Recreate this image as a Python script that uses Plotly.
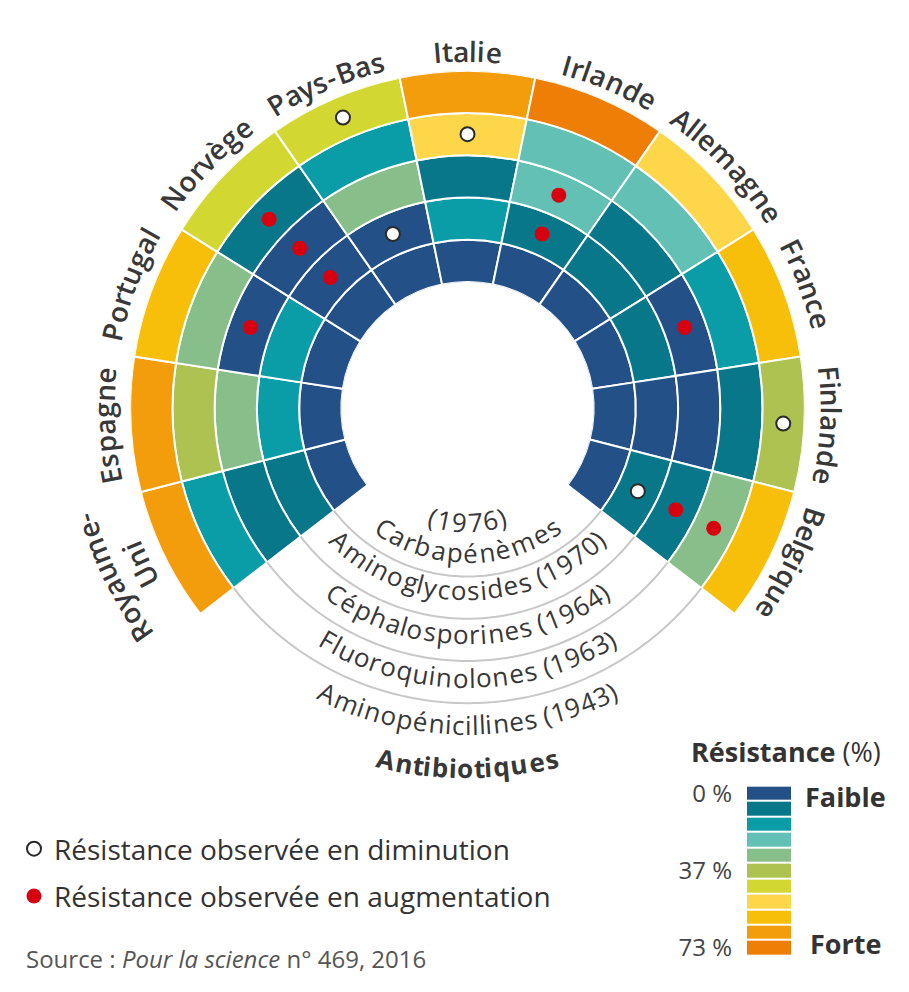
import numpy as np
import plotly.graph_objects as go

# ---------------- data ----------------
countries = ["Royaume-Uni", "Espagne", "Portugal", "Norvège", "Pays-Bas", "Italie",
             "Irlande", "Allemagne", "France", "Finlande", "Belgique"]
country_lines = {"Royaume-Uni": ["Royaume-", "Uni"]}

antibiotics = ["Carbapénèmes (1976)", "Aminoglycosides (1970)", "Céphalosporines (1964)",
               "Fluoroquinolones (1963)", "Aminopénicillines (1943)"]

# resistance class: 0 = faible (0 %) ... 10 = forte (73 %), in country order
carbapenemes      = [0, 0, 0, 0, 0, 0, 0, 0, 0, 0, 0]
aminoglycosides   = [1, 2, 2, 0, 0, 2, 1, 1, 1, 0, 1]
cephalosporines   = [1, 4, 0, 0, 4, 1, 3, 1, 0, 0, 1]
fluoroquinolones  = [2, 5, 4, 1, 2, 7, 3, 3, 2, 1, 4]
aminopenicillines = [9, 9, 8, 6, 6, 9, 10, 7, 8, 5, 8]

# observed trend: +1 = en augmentation, -1 = en diminution, 0 = none
trend_carbapenemes      = [0, 0, 0, 0, 0, 0, 0, 0, 0, 0, 0]
trend_aminoglycosides   = [0, 0, 0, 1, -1, 0, 1, 0, 0, 0, -1]
trend_cephalosporines   = [0, 0, 1, 1, 0, 0, 1, 0, 1, 0, 1]
trend_fluoroquinolones  = [0, 0, 0, 1, 0, -1, 0, 0, 0, 0, 1]
trend_aminopenicillines = [0, 0, 0, 0, -1, 0, 0, 0, 0, -1, 0]

palette = ["#235187", "#08778A", "#0A9DA8", "#62C0B5", "#88BE8A", "#AEC252",
           "#D2D831", "#FDD64A", "#F8BF0A", "#F49D0C", "#EE7E05"]
scale_tickvals = [0, 5, 10]
scale_ticktext = ["0 %", "37 %", "73 %"]

rings = [carbapenemes, aminoglycosides, cephalosporines, fluoroquinolones, aminopenicillines]
trends = [trend_carbapenemes, trend_aminoglycosides, trend_cephalosporines,
          trend_fluoroquinolones, trend_aminopenicillines]

# ---------------- layout constants ----------------
W, H = 909, 992
CX, CY, R = 467.5, 405.5, 343.5
HOLE = 0.374
SEG = 23.2
FONT = "Open Sans"
TXT = "#383838"
n = len(countries)
thetas = [(i - (n - 1) / 2) * SEG for i in range(n)]

# char widths (em) ~ Open Sans regular
WID = {' ': .26, 'a': .556, 'b': .613, 'c': .476, 'd': .613, 'e': .561, 'é': .561, 'è': .561,
       'f': .339, 'g': .548, 'h': .614, 'i': .253, 'j': .253, 'k': .525, 'l': .253, 'm': .93,
       'n': .614, 'o': .604, 'p': .613, 'q': .613, 'r': .408, 's': .477, 't': .353, 'u': .614,
       'v': .501, 'w': .778, 'x': .524, 'y': .502, 'z': .462, 'A': .633, 'B': .648, 'C': .631,
       'E': .556, 'F': .516, 'I': .293, 'N': .756, 'P': .615, 'R': .631, 'U': .742,
       '(': .267, ')': .267, '-': .322, '0': .572, '1': .572, '2': .572, '3': .572, '4': .572,
       '5': .572, '6': .572, '7': .572, '8': .572, '9': .572}


def to_paper(a_deg, r_px):
    a = np.radians(a_deg)
    return (CX + r_px * np.sin(a)) / W, 1 - (CY - r_px * np.cos(a)) / H


def arc_text(s, a0, r, fs, weight=400, outward=True, k=1.0, color=TXT):
    bold = 1.07 if weight >= 700 else (1.04 if weight >= 600 else 1.0)
    widths = [WID.get(ch, .56) * fs * k * bold for ch in s]
    total = sum(widths)
    ext = np.degrees(total / r)
    out = []
    cum = 0.0
    for ch, w in zip(s, widths):
        off = np.degrees((cum + w / 2) / r)
        cum += w
        if ch == ' ':
            continue
        if outward:
            a = a0 - ext / 2 + off
            ang = a
        else:
            a = a0 + ext / 2 - off
            ang = a - 180
        ang = ((ang + 180) % 360) - 180
        x, y = to_paper(a, r)
        out.append(dict(x=x, y=y, xref="paper", yref="paper", text=ch, showarrow=False,
                        textangle=ang, xanchor="center", yanchor="middle",
                        font=dict(family=FONT, size=fs, color=color, weight=weight)))
    return out


fig = go.Figure()

# ---------------- rings ----------------
for k, vals in enumerate(rings):
    fig.add_trace(go.Barpolar(
        r=[1] * n, base=[k] * n, theta=thetas, width=[SEG] * n,
        marker=dict(color=[palette[v] for v in vals], line=dict(color="white", width=2)),
        showlegend=False, hoverinfo="skip"))

# grey arcs in the gap
gap_theta = np.linspace(SEG * n / 2, 360 - SEG * n / 2, 120)
for k in range(1, 5):
    fig.add_trace(go.Scatterpolar(r=[k] * len(gap_theta), theta=gap_theta, mode="lines",
                                  line=dict(color="#C8C8C8", width=2),
                                  showlegend=False, hoverinfo="skip"))

# trend markers
dec_r, dec_t, inc_r, inc_t = [], [], [], []
for k, tr in enumerate(trends):
    for i, v in enumerate(tr):
        if v < 0:
            dec_r.append(k + 0.5); dec_t.append(thetas[i])
        elif v > 0:
            inc_r.append(k + 0.5); inc_t.append(thetas[i])

fig.add_trace(go.Scatterpolar(r=dec_r, theta=dec_t, mode="markers",
                              name="Résistance observée en diminution",
                              legendgroup="a",
                              marker=dict(color="white", size=14, line=dict(color="#2a2a2a", width=2))))
fig.add_trace(go.Scatterpolar(r=inc_r, theta=inc_t, mode="markers",
                              name="Résistance observée en augmentation",
                              legendgroup="b",
                              marker=dict(color="#D7000F", size=15, line=dict(width=0))))

# ---------------- colour scale legend (heatmap) ----------------
cs = []
for i, c in enumerate(palette):
    cs.append([i / len(palette), c])
    cs.append([(i + 1) / len(palette), c])
fig.add_trace(go.Heatmap(z=[[i] for i in range(len(palette))], y=list(range(len(palette))), x=[0],
                         colorscale=cs, zmin=-0.5, zmax=len(palette) - 0.5, showscale=False,
                         ygap=2, xgap=0, hoverinfo="skip", xaxis="x", yaxis="y"))

annotations = []
# country labels
for name, th in zip(countries, thetas):
    lines = country_lines.get(name, [name])
    if len(lines) == 1:
        annotations += arc_text(lines[0], th, 364, 28, weight=600, outward=True, k=1.05)
    else:
        annotations += arc_text(lines[0], th, 399, 28, weight=600, outward=True, k=1.05)
        annotations += arc_text(lines[1], th, 365, 28, weight=600, outward=True, k=1.05)

# antibiotic labels in the gap
ab_r = [None, 185.5, 230.5, 274.5, 322.5]
annotations += arc_text("(1976)", 180, 116.5, 26, outward=False, k=1.05)
annotations += arc_text("Carbapénèmes", 180, 147.5, 26, outward=False, k=1.05)
for k in range(1, 5):
    annotations += arc_text(antibiotics[k], 180, ab_r[k], 26, outward=False, k=1.045)
annotations += arc_text("Antibiotiques", 180, 366.5, 26, weight=700, outward=False, k=1.06)

annotations += [
    dict(x=786 / W, y=1 - 755 / H, xref="paper", yref="paper", showarrow=False,
         text="<b>Résistance</b> (%)", font=dict(family=FONT, size=27, color="#333"),
         xanchor="center", yanchor="middle"),
    dict(x=803 / W, y=0, xref="paper", yref="y", showarrow=False, text="<b>Faible</b>",
         font=dict(family=FONT, size=27, color="#333"), xanchor="left", yanchor="middle",
         yshift=-3),
    dict(x=808 / W, y=10, xref="paper", yref="y", showarrow=False, text="<b>Forte</b>",
         font=dict(family=FONT, size=27, color="#333"), xanchor="left", yanchor="middle",
         yshift=4),
    dict(x=24 / W, y=1 - 966 / H, xref="paper", yref="paper", showarrow=False,
         text="Source : <i>Pour la science</i> n° 469, 2016",
         font=dict(family=FONT, size=24, color="#555"), xanchor="left", yanchor="middle"),
]

fig.update_layout(
    width=W, height=H, margin=dict(l=0, r=0, t=0, b=0),
    paper_bgcolor="white", plot_bgcolor="white",
    font=dict(family=FONT, color=TXT),
    polar=dict(
        domain=dict(x=[(CX - R) / W, (CX + R) / W], y=[1 - (CY + R) / H, 1 - (CY - R) / H]),
        hole=HOLE, bgcolor="white", barmode="overlay",
        angularaxis=dict(visible=False, rotation=90, direction="clockwise"),
        radialaxis=dict(visible=False, range=[0, 5]),
    ),
    xaxis=dict(domain=[747 / W, 791 / W], visible=False, fixedrange=True, range=[-0.5, 0.5]),
    yaxis=dict(domain=[1 - 963 / H, 1 - 790 / H], range=[10.5, -0.5], showgrid=False,
               zeroline=False, showline=False, ticks="", tickvals=scale_tickvals,
               ticktext=scale_ticktext, tickfont=dict(family=FONT, size=24, color="#444"),
               ticklabelstandoff=14, fixedrange=True),
    legend=dict(x=14 / W, y=1 - 829 / H, xanchor="left", yanchor="top",
                font=dict(family=FONT, size=28, color="#333"), traceorder="grouped",
                tracegroupgap=8, bgcolor="rgba(0,0,0,0)"),
    annotations=annotations,
    showlegend=True,
)

fig.write_html("out.html", config={"displayModeBar": False},
               post_script="document.body.style.margin='0';")
